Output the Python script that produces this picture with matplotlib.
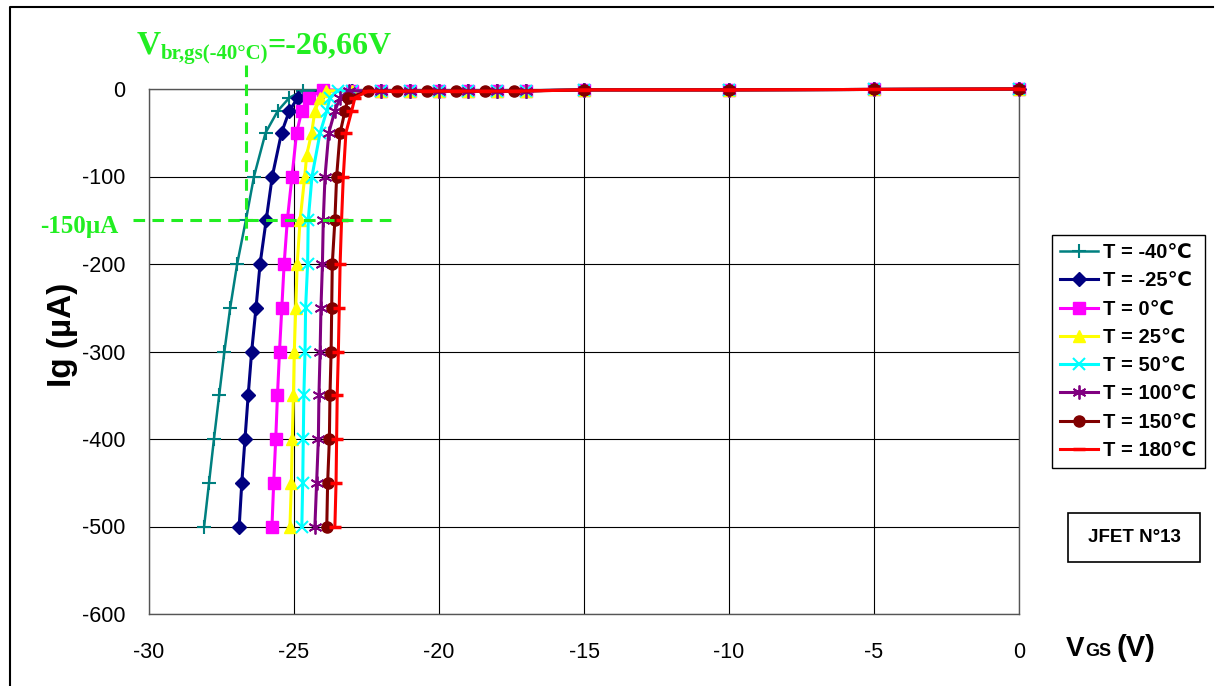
import matplotlib
matplotlib.use("Agg")
import matplotlib.pyplot as plt
from matplotlib.lines import Line2D
from matplotlib.patches import Rectangle

plt.rcParams["axes.unicode_minus"] = False

# --- data (Vgs in V, Ig in uA) ---
labels = ["T = -40\u2103", "T = -25\u2103", "T = 0\u2103", "T = 25\u2103",
          "T = 50\u2103", "T = 100\u2103", "T = 150\u2103", "T = 180\u2103"]

v_m40 = [-28.10, -27.93, -27.76, -27.58, -27.40, -27.20, -26.96, -26.66, -26.38, -25.98, -25.56, -25.16,
         -24.7, -24, -23, -22, -21, -20, -19, -18, -17, -15, -10, -5, 0]
i_m40 = [-500, -450, -400, -350, -300, -250, -200, -150, -100, -50, -25, -10,
         -2, -2, -2, -2, -2, -2, -2, -2, -2, -1, -1, -0.5, 0]

v_m25 = [-26.89, -26.80, -26.69, -26.58, -26.46, -26.31, -26.17, -25.96, -25.75, -25.43, -25.16, -24.87,
         -24, -23, -22, -21, -20, -19, -18, -17, -15, -10, -5, 0]
i_m25 = [-500, -450, -400, -350, -300, -250, -200, -150, -100, -50, -25, -10,
         -2, -2, -2, -2, -2, -2, -2, -2, -1, -1, -0.5, 0]

v_0 = [-25.76, -25.70, -25.63, -25.57, -25.50, -25.42, -25.34, -25.23, -25.07, -24.91, -24.73, -24.50,
       -24, -23, -22, -21, -20, -19, -18, -17, -15, -10, -5, 0]
i_0 = [-500, -450, -400, -350, -300, -250, -200, -150, -100, -50, -25, -10,
       -1, -2, -2, -2, -2, -2, -2, -2, -1, -1, -0.5, 0]

v_25 = [-25.14, -25.09, -25.06, -25.02, -24.99, -24.94, -24.89, -24.79, -24.63, -24.56, -24.39, -24.28, -24.10,
        -23.9, -23, -22, -21, -20, -19, -18, -17, -15, -10, -5, 0]
i_25 = [-500, -450, -400, -350, -300, -250, -200, -150, -100, -75, -50, -25, -10,
        -2, -2, -2, -2, -2, -2, -2, -2, -1, -1, -0.5, 0]

v_50 = [-24.73, -24.70, -24.68, -24.66, -24.62, -24.60, -24.53, -24.51, -24.38, -24.10, -23.87, -23.76,
        -23.5, -23, -22, -21, -20, -19, -18, -17, -15, -10, -5, 0]
i_50 = [-500, -450, -400, -350, -300, -250, -200, -150, -100, -50, -25, -10,
        -2, -2, -2, -2, -2, -2, -2, -2, -1, -1, -0.5, 0]

v_100 = [-24.28, -24.22, -24.16, -24.14, -24.10, -24.07, -24.02, -23.99, -23.93, -23.80, -23.59, -23.41,
         -23.1, -22, -21, -20, -19, -18, -17, -15, -10, -5, 0]
i_100 = [-500, -450, -400, -350, -300, -250, -200, -150, -100, -50, -25, -10,
         -2, -2, -2, -2, -2, -2, -2, -1, -1, -0.5, 0]

v_150 = [-23.87, -23.84, -23.78, -23.76, -23.72, -23.70, -23.68, -23.59, -23.53, -23.41, -23.24, -23.13,
         -22.45, -21.45, -20.4, -19.4, -18.4, -17.4, -15, -10, -5, 0]
i_150 = [-500, -450, -400, -350, -300, -250, -200, -150, -100, -50, -25, -10,
         -2.5, -2.5, -2.5, -2.5, -2.5, -2.5, -1, -1, -0.5, 0]

v_180 = [-23.59, -23.55, -23.53, -23.51, -23.47, -23.44, -23.41, -23.36, -23.30, -23.21, -23.01, -22.90,
         -22.45, -21.45, -20.4, -19.4, -18.4, -17.4, -15, -10, -5, 0]
i_180 = [-500, -450, -400, -350, -300, -250, -200, -150, -100, -50, -25, -10,
         -2.5, -2.5, -2.5, -2.5, -2.5, -2.5, -1, -1, -0.5, 0]

vbr_m40 = -26.66
i_ref = -150

series = [(v_m40, i_m40), (v_m25, i_m25), (v_0, i_0), (v_25, i_25),
          (v_50, i_50), (v_100, i_100), (v_150, i_150), (v_180, i_180)]
colors = ["#008080", "#000080", "#FF00FF", "#FFFF00", "#00FFFF", "#800080", "#800000", "#FF0000"]
markers = ["+", "D", "s", "^", "x", (6, 2, 0), "o", "_"]
msizes = [10, 7, 8.5, 8.5, 9, 10, 8, 9]
mews = [1.5, 1, 1, 1, 1.5, 1.3, 1, 2.5]
lws = [1.8, 2.2, 2.2, 2.2, 2.2, 2.2, 2.2, 2.2]

W, H = 1218, 686
def fx(px):
    return px / W
def fy(py):
    return 1 - py / H

GREEN = "#22EE22"
SANS = ["Liberation Sans", "DejaVu Sans"]
SERIF = ["Liberation Serif", "DejaVu Serif"]

fig = plt.figure(figsize=(W / 100, H / 100), dpi=100, facecolor="white")
ax = fig.add_axes([fx(149), fy(614), fx(1019) - fx(149), fy(89) - fy(614)])

for (v, i), c, m, ms, mew, lw, lab in zip(series, colors, markers, msizes, mews, lws, labels):
    ax.plot(v, i, color=c, lw=lw, marker=m, ms=ms, mew=mew, mfc=c, mec=c,
            label=lab, clip_on=False, zorder=3)

ax.set_xlim(-30, 0)
ax.set_ylim(-600, 0)
ax.set_xticks(range(-30, 1, 5))
ax.set_yticks(range(-600, 1, 100))
ax.grid(color="black", lw=0.8)
ax.set_axisbelow(True)
for s in ax.spines.values():
    s.set_color("#555555")
    s.set_linewidth(1.0)
ax.tick_params(length=0)
ax.tick_params(axis="y", pad=17)
ax.tick_params(axis="x", pad=20)
for t in ax.get_yticklabels():
    t.set_fontfamily(SANS)
    t.set_fontsize(15.5)
for t in ax.get_xticklabels():
    t.set_fontfamily(["Liberation Sans Narrow", "Liberation Sans"])
    t.set_fontsize(15.5)

# breakdown markers
dash = dict(color=GREEN, lw=2.2, dashes=(3.8, 2.4), clip_on=False, zorder=4)
ax.plot([-30.55, -21.46], [i_ref, i_ref], **dash)
ax.plot([vbr_m40, vbr_m40], [27, -173], **dash)

# annotation written in three runs, each starting where the last one ends
fig.canvas.draw()
rend = fig.canvas.get_renderer()
x0 = 137
for txt, size, base in [("V", 24, 53), ("br,gs(-40\u00b0C)", 15, 59), ("=-26,66V", 23, 53)]:
    t = fig.text(fx(x0), fy(base), txt, fontsize=size, fontweight="bold", color=GREEN,
                 family=SERIF, va="baseline", ha="left")
    x0 = t.get_window_extent(rend).x1 - 0.5
fig.text(fx(40), fy(233), "-150\u00b5A", fontsize=18, fontweight="bold", color=GREEN,
         family=SERIF, va="baseline", ha="left")

# axis titles
fig.text(fx(62), fy(335), "Ig (\u00b5A)", rotation=90, fontsize=24, fontweight="bold",
         family=SANS, ha="center", va="center")
fig.text(fx(1066), fy(656), "V", fontsize=20, fontweight="bold", family=SANS, va="baseline")
fig.text(fx(1085), fy(656), "GS", fontsize=13, fontweight="bold", family=SANS, va="baseline")
fig.text(fx(1117), fy(656), "(V)", fontsize=21, fontweight="bold", family=SANS, va="baseline")

leg = ax.legend(loc="upper left", bbox_to_anchor=(fx(1052), fy(235)), bbox_transform=fig.transFigure,
                frameon=True, fancybox=False, edgecolor="black", framealpha=1,
                prop=dict(family=SANS, weight="bold", size=14.5), handlelength=1.9,
                handletextpad=0.25, labelspacing=0.46, borderpad=0.4, borderaxespad=0)
leg.get_frame().set_linewidth(1.0)

# device tag
fig.patches.append(Rectangle((fx(1068), fy(562)), fx(1200) - fx(1068), fy(513) - fy(562),
                             transform=fig.transFigure, fill=False, edgecolor="black", lw=1.2))
fig.text(fx(1134), fy(537), "JFET N\u00b013", fontsize=13.5, fontweight="bold", family=SANS,
         ha="center", va="center")

# outer frame
fig.lines.append(Line2D([fx(10), fx(10), fx(1213)], [0, fy(7), fy(7)],
                        transform=fig.transFigure, color="black", lw=1.5))

fig.savefig("out.png", dpi=100, facecolor="white")
